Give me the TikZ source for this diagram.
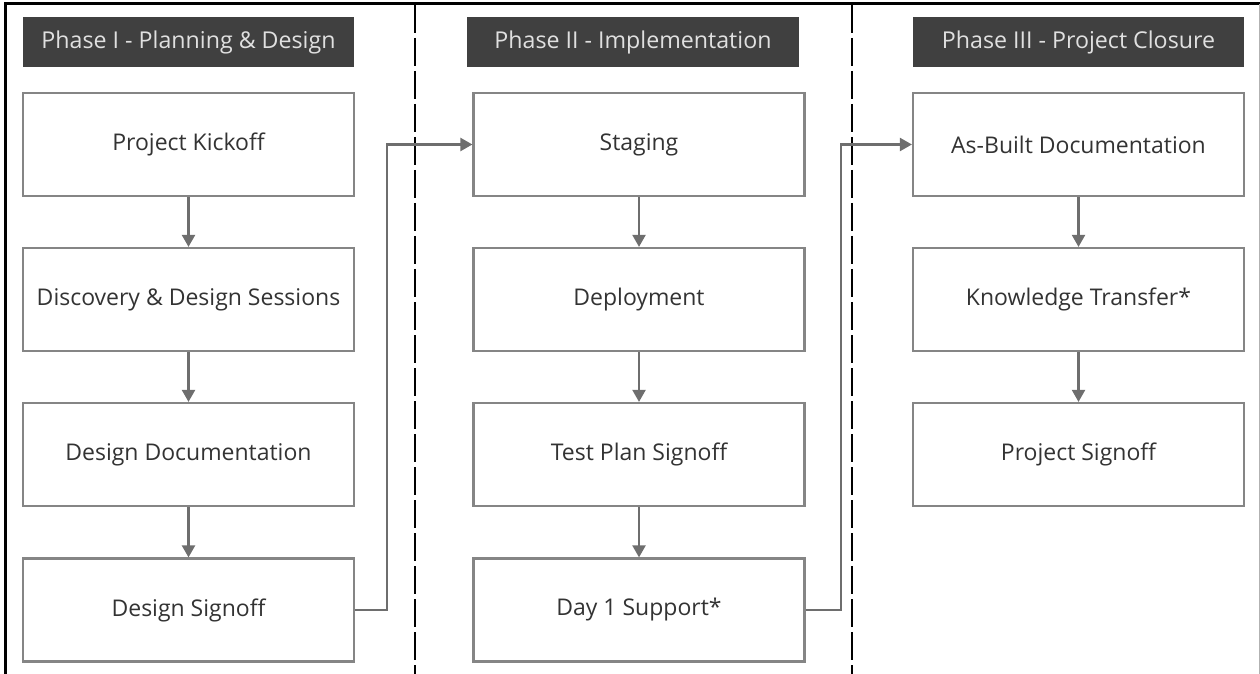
\documentclass[tikz,border=0pt]{standalone}
\usepackage{fontspec}
\setmainfont{Open Sans}
\usetikzlibrary{arrows.meta}
\definecolor{headgray}{HTML}{404040}
\definecolor{boxgray}{HTML}{858585}
\definecolor{linegray}{HTML}{6E6E6E}
\definecolor{textgray}{HTML}{333333}
\tikzset{
  phase/.style={fill=headgray, text=white!88!black, minimum width=165.5pt, minimum height=25pt, inner sep=0pt, font=\fontsize{11.6}{14}\selectfont},
  task/.style={draw=boxgray, line width=1.1pt, fill=white, text=textgray, minimum width=165.5pt, minimum height=51.5pt, inner sep=0pt, font=\fontsize{11.5}{14}\selectfont},
  flow/.style={draw=linegray, line width=1.1pt, -{Triangle[length=6pt,width=6.5pt]}},
  divider/.style={line width=0.9pt, dash pattern=on 14pt off 2.5pt}
}
\begin{document}
\begin{tikzpicture}[x=0.5pt,y=-0.5pt]
        \useasboundingbox (0,0) rectangle (1260,674);
        \draw[line width=1.5pt] (5,674) -- (5,4) -- (1260,4);
        \draw[gray!60, line width=0.5pt] (1259,4) -- (1259,674);
        \draw[divider] (415,5) -- (415,674);
        \draw[divider] (852,5) -- (852,674);

        \node[phase] (head1) at (188.5,42) {Phase I - Planning \& Design};
        \node[phase, minimum width=166pt] (head2) at (633,42) {Phase II - Implementation};
        \node[phase] (head3) at (1078.5,42) {Phase III - Project Closure};

        \node[task] (kickoff) at (188.5,144.5) {Project Kickoff};
        \node[task] (discovery) at (188.5,299.5) {Discovery \& Design Sessions};
        \node[task] (designdoc) at (188.5,454.5) {Design Documentation};
        \node[task] (designsign) at (188.5,610) {Design Signoff};

        \node[task] (staging) at (639,144.5) {Staging};
        \node[task] (deploy) at (639,299.5) {Deployment};
        \node[task] (testplan) at (639,454.5) {Test Plan Signoff};
        \node[task] (dayone) at (639,610) {Day 1 Support*};

        \node[task] (asbuilt) at (1078.5,144.5) {As-Built Documentation};
        \node[task] (transfer) at (1078.5,299.5) {Knowledge Transfer*};
        \node[task] (projsign) at (1078.5,454.5) {Project Signoff};

        \coordinate (turn1) at (387,610);
        \coordinate (turn2) at (841,610);

        \draw[flow] (kickoff) -- (discovery);
        \draw[flow] (discovery) -- (designdoc);
        \draw[flow] (designdoc) -- (designsign);
        \draw[flow] (staging) -- (deploy);
        \draw[flow] (deploy) -- (testplan);
        \draw[flow] (testplan) -- (dayone);
        \draw[flow] (asbuilt) -- (transfer);
        \draw[flow] (transfer) -- (projsign);
        \draw[flow] (designsign.east) -- (turn1) |- (staging.west);
        \draw[flow] (dayone.east) -- (turn2) |- (asbuilt.west);
    \end{tikzpicture}
\end{document}
